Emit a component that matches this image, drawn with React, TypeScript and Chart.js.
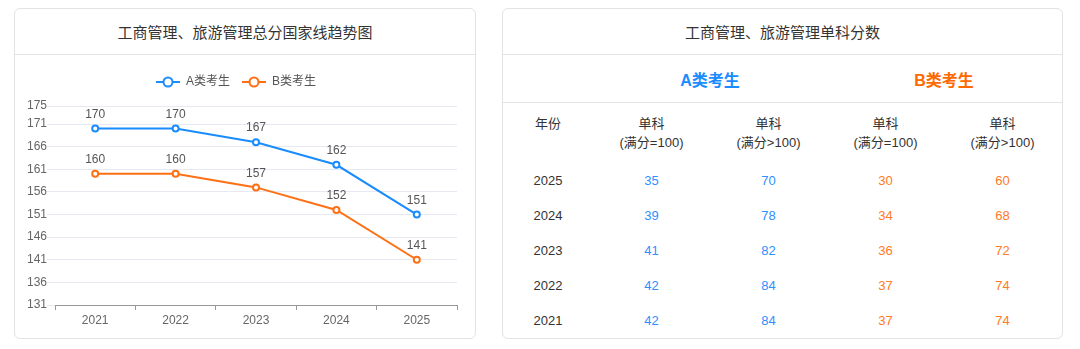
import React, { useEffect, useRef } from "react";
import { Chart, registerables } from "chart.js";

Chart.register(...registerables);

const years = ["2021", "2022", "2023", "2024", "2025"];
const seriesA = [170, 170, 167, 162, 151];
const seriesB = [160, 160, 157, 152, 141];
const seriesNames = ["A类考生", "B类考生"];
const yTicks = [131, 136, 141, 146, 151, 156, 161, 166, 171, 175];

const tableYears = ["2025", "2024", "2023", "2022", "2021"];
const aSingle100 = [35, 39, 41, 42, 42];
const aSingleOver = [70, 78, 82, 84, 84];
const bSingle100 = [30, 34, 36, 37, 37];
const bSingleOver = [60, 68, 72, 74, 74];
const yearHead = "年份\n\u00a0";
const colHeads = ["单科\n(满分=100)", "单科\n(满分>100)", "单科\n(满分=100)", "单科\n(满分>100)"];

const leftTitle = "工商管理、旅游管理总分国家线趋势图";
const rightTitle = "工商管理、旅游管理单科分数";

const BLUE = "#1a8cff";
const ORANGE = "#ff7014";
const TBL_BLUE = "#2e90ff";
const TBL_ORANGE = "#ff7a26";
const FONT = "'Liberation Sans', 'Noto Sans CJK SC', sans-serif";

function makeIcon(color: string) {
  const c = document.createElement("canvas");
  c.width = 24;
  c.height = 12;
  const ctx = c.getContext("2d")!;
  ctx.strokeStyle = color;
  ctx.lineWidth = 2;
  ctx.beginPath();
  ctx.moveTo(0, 6);
  ctx.lineTo(24, 6);
  ctx.stroke();
  ctx.beginPath();
  ctx.arc(12, 6, 4.5, 0, Math.PI * 2);
  ctx.fillStyle = "#fff";
  ctx.fill();
  ctx.stroke();
  return c;
}

const valueLabels = {
  id: "valueLabels",
  afterDatasetsDraw(chart: any) {
    const ctx = chart.ctx;
    ctx.save();
    ctx.font = `12px ${FONT}`;
    ctx.fillStyle = "#555";
    ctx.textAlign = "center";
    ctx.textBaseline = "middle";
    chart.data.datasets.forEach((ds: any, i: number) => {
      const meta = chart.getDatasetMeta(i);
      meta.data.forEach((pt: any, j: number) => {
        ctx.fillText(String(ds.data[j]), pt.x, pt.y - 14);
      });
    });
    ctx.restore();
  },
};

const legendGap = {
  id: "legendGap",
  beforeInit(chart: any) {
    const lg = chart.legend;
    if (!lg) return;
    const orig = lg.fit;
    lg.fit = function () {
      orig.call(this);
      this.height += 8;
    };
  },
};

function LineChart() {
  const ref = useRef<HTMLCanvasElement>(null);
  useEffect(() => {
    const icons = [makeIcon(BLUE), makeIcon(ORANGE)];
    const chart = new Chart(ref.current!, {
      type: "line",
      data: {
        labels: years,
        datasets: [
          {
            label: seriesNames[0],
            data: seriesA,
            borderColor: BLUE,
            backgroundColor: "#fff",
            borderWidth: 2,
            pointRadius: 3,
            pointBorderWidth: 2,
            pointBackgroundColor: "#fff",
            pointBorderColor: BLUE,
            tension: 0,
          },
          {
            label: seriesNames[1],
            data: seriesB,
            borderColor: ORANGE,
            backgroundColor: "#fff",
            borderWidth: 2,
            pointRadius: 3,
            pointBorderWidth: 2,
            pointBackgroundColor: "#fff",
            pointBorderColor: ORANGE,
            tension: 0,
          },
        ],
      },
      options: {
        animation: false,
        responsive: false,
        maintainAspectRatio: false,
        layout: { padding: { top: 9, right: 18, bottom: 0, left: 0 } },
        plugins: {
          tooltip: { enabled: false },
          legend: {
            display: true,
            position: "top",
            labels: {
              usePointStyle: true,
              pointStyleWidth: 24,
              padding: 12,
              color: "#555",
              font: { size: 12, family: FONT },
              generateLabels: (c: any) =>
                c.data.datasets.map((ds: any, i: number) => ({
                  text: ds.label,
                  pointStyle: icons[i],
                  fillStyle: "#fff",
                  strokeStyle: ds.borderColor,
                  lineWidth: 0,
                  fontColor: "#555",
                  hidden: false,
                  datasetIndex: i,
                })),
            },
          },
        },
        scales: {
          x: {
            offset: true,
            grid: {
              offset: true,
              drawOnChartArea: false,
              drawTicks: true,
              tickLength: 5,
              color: "#999",
            },
            border: { display: true, color: "#999", width: 1 },
            ticks: { color: "#666", padding: 3, font: { size: 12, family: FONT } },
            afterFit: (s: any) => {
              s.height = 32;
            },
          },
          y: {
            min: yTicks[0],
            max: yTicks[yTicks.length - 1],
            grid: { color: "#e6e9f2", tickLength: 8, drawTicks: true },
            border: { display: false },
            ticks: { color: "#666", padding: 0, font: { size: 12, family: FONT } },
            afterBuildTicks: (s: any) => {
              s.ticks = yTicks.map((v) => ({ value: v }));
            },
            afterFit: (s: any) => {
              s.width = 40;
            },
          },
        },
      },
      plugins: [valueLabels, legendGap],
    } as any);
    return () => chart.destroy();
  }, []);
  return <canvas ref={ref} width={460} height={282} style={{ display: "block" }} />;
}

const cardStyle: React.CSSProperties = {
  position: "absolute",
  top: 8,
  border: "1px solid #e3e3e3",
  borderRadius: 6,
  background: "#fff",
  boxSizing: "border-box",
  fontFamily: FONT,
  overflow: "hidden",
};

const headStyle: React.CSSProperties = {
  height: 45,
  borderBottom: "1px solid #e3e3e3",
  display: "flex",
  alignItems: "center",
  justifyContent: "center",
  fontSize: 15,
  color: "#333",
};

const colWidths = [90, 117, 117, 117, 117];

function cell(content: React.ReactNode, color: string, key: string | number, width: number, height: number) {
  return (
    <div
      key={key}
      style={{
        width,
        height,
        display: "flex",
        alignItems: "center",
        justifyContent: "center",
        textAlign: "center",
        color,
        fontSize: 13,
        lineHeight: "19px",
        whiteSpace: "pre-line",
      }}
    >
      {content}
    </div>
  );
}

export default function App() {
  const rows = tableYears.map((y, i) => [y, aSingle100[i], aSingleOver[i], bSingle100[i], bSingleOver[i]]);
  const colColors = ["#333", TBL_BLUE, TBL_BLUE, TBL_ORANGE, TBL_ORANGE];
  return (
    <div>
      <div style={{ ...cardStyle, left: 14, width: 462, height: 331 }}>
        <div style={headStyle}>{leftTitle}</div>
        <LineChart />
      </div>
      <div style={{ ...cardStyle, left: 502, width: 561, height: 331 }}>
        <div style={headStyle}>{rightTitle}</div>
        <div style={{ display: "flex", height: 47, borderBottom: "1px solid #e3e3e3", alignItems: "center" }}>
          <div style={{ width: 90 }} />
          <div style={{ width: 234, textAlign: "center", color: BLUE, fontWeight: "bold", fontSize: 16 }}>{seriesNames[0]}</div>
          <div style={{ width: 234, textAlign: "center", color: "#ff6a00", fontWeight: "bold", fontSize: 16 }}>{seriesNames[1]}</div>
        </div>
        <div style={{ display: "flex" }}>
          {cell(yearHead, "#333", "h0", colWidths[0], 60)}
          {colHeads.map((h, i) => cell(h, "#333", "h" + (i + 1), colWidths[i + 1], 60))}
        </div>
        {rows.map((r, ri) => (
          <div key={ri} style={{ display: "flex" }}>
            {r.map((v, ci) => cell(String(v), colColors[ci], ci, colWidths[ci], 35))}
          </div>
        ))}
      </div>
    </div>
  );
}
